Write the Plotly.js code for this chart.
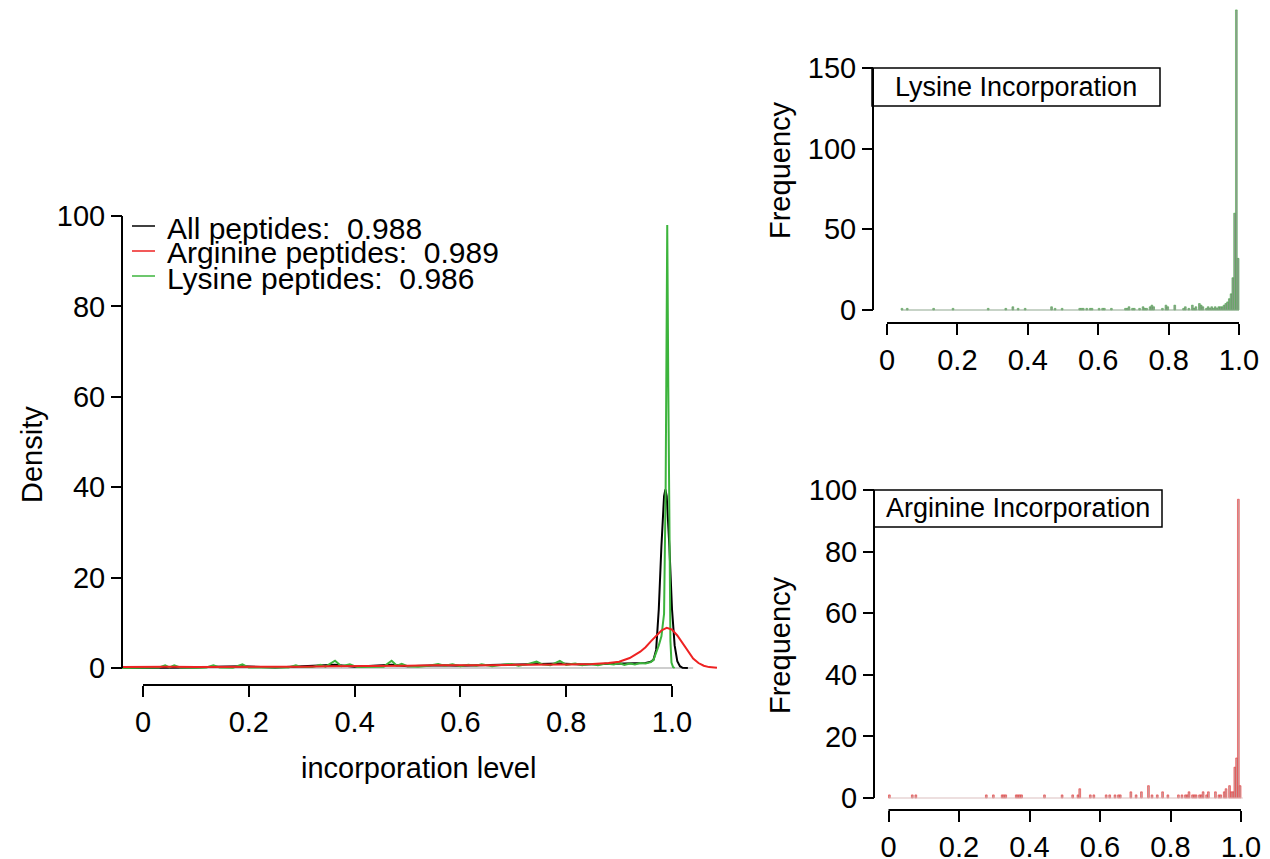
<!DOCTYPE html>
<html><head><meta charset="utf-8">
<script src="https://cdn.plot.ly/plotly-3.0.1.min.js"></script>
<style>html,body{margin:0;padding:0;background:#fff}#chart{width:1270px;height:859px}</style>
</head><body><div id="chart"></div>
<script>
// ---------------- data ----------------
const legendLabels = ["All peptides:\u00a0 0.988", "Arginine peptides:\u00a0 0.989", "Lysine peptides:\u00a0 0.986"];
const xTicks = [0, 0.2, 0.4, 0.6, 0.8, 1.0];
const xTickText = ["0", "0.2", "0.4", "0.6", "0.8", "1.0"];

const allX = [-0.04,0.0,0.05,0.1,0.133,0.188,0.25,0.3,0.363,0.4,0.47,0.5,0.56,0.6,0.65,0.7,0.744,0.788,0.83,0.87,0.9,0.93,0.95,0.96,0.965,0.97,0.975,0.98,0.985,0.9875,0.99,0.995,1.0,1.005,1.01,1.015,1.02,1.03];
const allY = [0.02,0.05,0.2,0.1,0.3,0.4,0.1,0.3,0.7,0.3,0.7,0.4,0.6,0.5,0.6,0.7,0.9,1.0,0.8,0.9,1.0,1.0,1.1,1.4,1.8,4,13,27,38,39.5,38,27,13,5,1.5,0.4,0.05,0];

const lysX = [-0.04,0.0,0.03,0.042,0.05,0.059,0.07,0.1,0.12,0.133,0.145,0.17,0.188,0.2,0.25,0.275,0.289,0.3,0.32,0.335,0.345,0.363,0.375,0.391,0.405,0.44,0.455,0.47,0.48,0.489,0.5,0.52,0.54,0.558,0.57,0.585,0.6,0.615,0.63,0.64,0.66,0.68,0.697,0.71,0.725,0.744,0.755,0.77,0.788,0.8,0.817,0.83,0.845,0.86,0.875,0.89,0.9,0.91,0.92,0.93,0.94,0.95,0.96,0.965,0.97,0.975,0.98,0.985,0.988,0.99,0.991,0.993,0.995,0.997,0.999,1.002,1.005];
const lysY = [0.02,0.05,0.1,0.6,0.15,0.6,0.1,0.05,0.1,0.6,0.1,0.05,0.8,0.1,0.05,0.1,0.6,0.2,0.2,0.7,0.3,1.6,0.4,0.8,0.2,0.2,0.3,1.6,0.5,0.9,0.4,0.3,0.5,0.9,0.5,0.8,0.4,0.7,0.5,0.8,0.4,0.7,0.9,0.5,0.8,1.4,0.8,0.6,1.6,0.7,1.0,0.6,0.9,0.6,1.0,0.8,1.1,0.7,1.0,0.8,1.1,1.0,1.3,1.8,3.2,5,7,12,40,90,98,62,22,6,1.2,0.2,0];

const argX = [-0.04,0,0.05,0.1,0.15,0.2,0.25,0.3,0.35,0.4,0.45,0.5,0.55,0.6,0.65,0.7,0.75,0.8,0.85,0.88,0.9,0.92,0.94,0.95,0.96,0.97,0.98,0.99,1.0,1.01,1.02,1.03,1.04,1.05,1.06,1.07,1.085];
const argY = [0.2,0.25,0.25,0.2,0.2,0.15,0.2,0.3,0.4,0.4,0.45,0.5,0.6,0.55,0.6,0.7,0.7,0.8,0.9,1.1,1.4,2.2,3.6,4.6,5.9,7.2,8.3,8.9,8.5,7.2,5.4,3.6,2.1,1.1,0.5,0.2,0.05];

const zeroLineX = [-0.04, 1.04];

const lysBins = [0.0425,0.0575,0.1325,0.1875,0.2875,0.3375,0.3575,0.3725,0.3925,0.4675,0.4775,0.4975,0.5475,0.5525,0.5575,0.5675,0.5775,0.5825,0.6025,0.6125,0.6175,0.6375,0.6775,0.6825,0.6875,0.6975,0.7025,0.7175,0.7275,0.7325,0.7375,0.7475,0.7525,0.7575,0.7825,0.7925,0.7975,0.8175,0.8425,0.8475,0.8575,0.8675,0.8725,0.8775,0.8875,0.8925,0.8975,0.9075,0.9125,0.9175,0.9225,0.9275,0.9325,0.9375,0.9425,0.9475,0.9525,0.9575,0.9625,0.9675,0.9725,0.9775,0.9825,0.9875,0.9925,0.9975];
const lysCounts = [1,1,1,1,1, 1,2,1,1, 2,1,1, 1,1,1,1,1,1, 1,1,1,1, 1,1,2,1,1, 1,2,1,1, 2,3,2, 1,3,2, 3, 1,2,1, 3,1,2, 4,3,2, 1,2,1,2,1,2,1,2,2,2, 3,4,5,7,10,20,60,186,32];
const lysRange = [0.04, 1.0];

const argBins = [0.0025,0.0675,0.0775,0.2775,0.2975,0.3225,0.3275,0.3325,0.3625,0.3675,0.3725,0.3775,0.4425,0.4925,0.5225,0.5375,0.5425,0.5725,0.5825,0.6175,0.6275,0.6425,0.6525,0.6575,0.6875,0.7025,0.7175,0.7375,0.7475,0.7625,0.7775,0.7925,0.8225,0.8325,0.8425,0.8475,0.8525,0.8625,0.8675,0.8725,0.8825,0.8875,0.8925,0.9025,0.9075,0.9275,0.9375,0.9425,0.9525,0.9575,0.9675,0.9725,0.9775,0.9825,0.9875,0.9925,0.9975];
const argCounts = [1,1,1, 1,1, 1,1,1, 1,1,1,1, 1, 1,1, 1,3, 1,1, 1,1, 1,1,1, 2, 1, 2, 4, 1,1, 2, 1, 1,1, 1,1,2,1,1,1,1,1,2,1,2, 2,1,1,2,3, 4,2,2, 10,13,97,4];
const argRange = [0.0, 1.005];

const lysTicks = [0, 50, 100, 150];
const argTicks = [0, 20, 40, 60, 80, 100];
const densTicks = [0, 20, 40, 60, 80, 100];

// ---------------- layout helpers (pixels -> paper) ----------------
const W = 1270, H = 859;
const px = p => p / W;
const py = p => 1 - p / H;
// map a pixel span to a data range given two reference pixels
function rangeFor(p0, p1, v0pix, v1pix, v0, v1) {
  const k = (v1 - v0) / (v1pix - v0pix);
  return [v0 + (p0 - v0pix) * k, v0 + (p1 - v0pix) * k];
}
const FONT = "Liberation Sans, Arial, Helvetica, sans-serif";
const FS = 29;

function xax(domPix, range, posPix) {
  return {domain: [px(domPix[0]), px(domPix[1])], range: range, anchor: 'free', position: py(posPix),
    showline: false, showgrid: false, zeroline: false, ticks: 'outside', ticklen: 11, tickwidth: 2,
    tickcolor: '#000', tickvals: xTicks, ticktext: xTickText, tickfont: {size: FS, color: '#000'}, fixedrange: true};
}
function yax(domPix, range, posPix, ticks) {
  return {domain: [py(domPix[1]), py(domPix[0])], range: range, anchor: 'free', position: px(posPix),
    showline: false, showgrid: false, zeroline: false, ticks: 'outside', ticklen: 11, tickwidth: 2,
    tickcolor: '#000', tickvals: ticks, tickfont: {size: FS, color: '#000'}, fixedrange: true};
}

// main density plot: x 0->143px, 1->672px ; y 0->668px, 100->216px
const mainXR = rangeFor(100, 740, 143, 672, 0, 1);
const mainYR = rangeFor(700, 190, 668, 216, 0, 100);
// lysine hist: x 0->887, 1->1239 ; y 0->310, 150->68
const lysXR = rangeFor(865, 1255, 887, 1239, 0, 1);
const lysYR = rangeFor(330, 0, 310, 68, 0, 150);
// arginine hist: x 0->888.5, 1->1241 ; y 0->798, 100->490
const argXR = rangeFor(865, 1260, 888.5, 1241, 0, 1);
const argYR = rangeFor(822, 470, 798, 490, 0, 100);

const traces = [
  {x: zeroLineX, y: [0, 0], mode: 'lines', line: {color: '#bebebe', width: 1.5}, xaxis: 'x', yaxis: 'y', hoverinfo: 'skip'},
  {x: allX, y: allY, mode: 'lines', name: legendLabels[0], line: {color: '#000000', width: 2}, xaxis: 'x', yaxis: 'y'},
  {x: lysX, y: lysY, mode: 'lines', name: legendLabels[2], line: {color: '#3cb43c', width: 2}, xaxis: 'x', yaxis: 'y'},
  {x: argX, y: argY, mode: 'lines', name: legendLabels[1], line: {color: '#ee2222', width: 2}, xaxis: 'x', yaxis: 'y'},
  {x: lysRange, y: [0, 0], mode: 'lines', line: {color: '#8fa88f', width: 1.2}, xaxis: 'x2', yaxis: 'y2', hoverinfo: 'skip'},
  {type: 'bar', x: lysBins, y: lysCounts, width: 0.005, marker: {color: '#9a9a9a', line: {color: '#45a845', width: 0.6}}, xaxis: 'x2', yaxis: 'y2'},
  {x: argRange, y: [0, 0], mode: 'lines', line: {color: '#dcc0c0', width: 1.2}, xaxis: 'x3', yaxis: 'y3', hoverinfo: 'skip'},
  {type: 'bar', x: argBins, y: argCounts, width: 0.005, marker: {color: '#c8a8a8', line: {color: '#ee3333', width: 0.6}}, xaxis: 'x3', yaxis: 'y3'}
];

const shapes = [
  // main axes lines (span first..last tick, R style)
  {type: 'line', xref: 'x', yref: 'paper', x0: 0, x1: 1, y0: py(685), y1: py(685), line: {color: '#000', width: 2}},
  {type: 'line', xref: 'paper', yref: 'y', x0: px(122), x1: px(122), y0: 0, y1: 100, line: {color: '#000', width: 2}},
  {type: 'line', xref: 'x2', yref: 'paper', x0: 0, x1: 1, y0: py(323), y1: py(323), line: {color: '#000', width: 2}},
  {type: 'line', xref: 'paper', yref: 'y2', x0: px(873), x1: px(873), y0: 0, y1: 150, line: {color: '#000', width: 2}},
  {type: 'line', xref: 'x3', yref: 'paper', x0: 0, x1: 1, y0: py(810), y1: py(810), line: {color: '#000', width: 2}},
  {type: 'line', xref: 'paper', yref: 'y3', x0: px(874), x1: px(874), y0: 0, y1: 100, line: {color: '#000', width: 2}},
  // legend boxes on the histograms
  {type: 'rect', xref: 'paper', yref: 'paper', x0: px(872), x1: px(1160), y0: py(106), y1: py(68), line: {color: '#000', width: 1.5}, fillcolor: 'rgba(255,255,255,0)'},
  {type: 'rect', xref: 'paper', yref: 'paper', x0: px(874), x1: px(1162), y0: py(527), y1: py(490), line: {color: '#000', width: 1.5}, fillcolor: 'rgba(255,255,255,0)'},
  // legend line samples
  {type: 'line', xref: 'paper', yref: 'paper', x0: px(132), x1: px(155), y0: py(226), y1: py(226), line: {color: '#000', width: 1.5}},
  {type: 'line', xref: 'paper', yref: 'paper', x0: px(132), x1: px(155), y0: py(251), y1: py(251), line: {color: '#ee2222', width: 1.5}},
  {type: 'line', xref: 'paper', yref: 'paper', x0: px(132), x1: px(155), y0: py(276), y1: py(276), line: {color: '#3cb43c', width: 1.5}}
];

function ann(text, xp, yp, opts) {
  return Object.assign({text: text, xref: 'paper', yref: 'paper', x: px(xp), y: py(yp), showarrow: false,
    font: {size: FS, color: '#000', family: FONT}, xanchor: 'center', yanchor: 'middle'}, opts || {});
}
const annotations = [
  ann('Density', 32, 455, {textangle: -90}),
  ann('incorporation level', 418, 768),
  ann('Frequency', 780, 170, {textangle: -90}),
  ann('Frequency', 780, 645, {textangle: -90}),
  ann('Lysine Incorporation', 1016, 87, {font: {size: 27, color: '#000', family: FONT}}),
  ann('Arginine Incorporation', 1018, 508, {font: {size: 27, color: '#000', family: FONT}}),
  ann(legendLabels[0], 165, 228, {xanchor: 'left', font: {size: 30, color: '#000', family: FONT}}),
  ann(legendLabels[1], 165, 253, {xanchor: 'left', font: {size: 30, color: '#000', family: FONT}}),
  ann(legendLabels[2], 165, 278, {xanchor: 'left', font: {size: 30, color: '#000', family: FONT}})
];

const layout = {
  width: W, height: H, margin: {l: 0, r: 0, t: 0, b: 0}, showlegend: false,
  paper_bgcolor: '#fff', plot_bgcolor: 'rgba(0,0,0,0)', font: {family: FONT, color: '#000'},
  bargap: 0,
  xaxis: xax([100, 740], mainXR, 685),
  yaxis: yax([190, 700], mainYR, 122, densTicks),
  xaxis2: xax([865, 1255], lysXR, 323),
  yaxis2: yax([0, 330], lysYR, 873, lysTicks),
  xaxis3: xax([865, 1260], argXR, 810),
  yaxis3: yax([470, 822], argYR, 874, argTicks),
  shapes: shapes, annotations: annotations
};

Plotly.newPlot('chart', traces, layout, {displayModeBar: false, staticPlot: true});
</script></body></html>
